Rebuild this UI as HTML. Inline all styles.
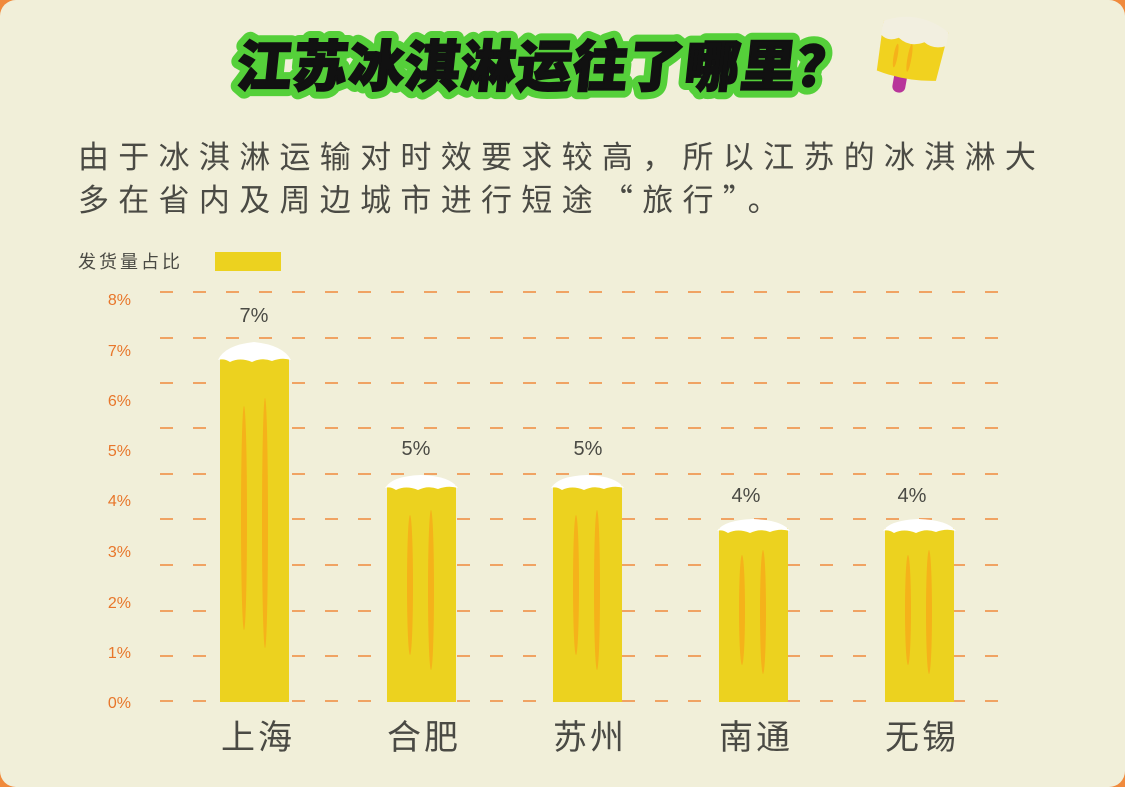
<!DOCTYPE html><html><head><meta charset="utf-8"><style>
body{margin:0;background:#f08a3c;}
.card{position:absolute;left:0;top:0;width:1125px;height:787px;background:#f1efd9;border-radius:16px;overflow:hidden;}
svg text{font-family:"Liberation Sans","Noto Sans CJK SC",sans-serif;}
</style></head><body><div class="card">
<svg width="1125" height="787" xmlns="http://www.w3.org/2000/svg">
<text x="542" y="86" text-anchor="middle" font-size="55" font-weight="900" fill="#111" stroke="#55d03a" stroke-width="16" stroke-linejoin="round" paint-order="stroke" transform="skewX(-6) translate(10,0)" letter-spacing="1">江苏冰淇淋运往了哪里？</text>
<text x="542" y="86" text-anchor="middle" font-size="55" font-weight="900" fill="#111" stroke="#111" stroke-width="2" transform="skewX(-6) translate(10,0)" letter-spacing="1">江苏冰淇淋运往了哪里？</text>
<g transform="rotate(10 910 55)">
<rect x="898" y="70" width="13" height="24" rx="6" fill="#b8359a"/>
<path d="M878 26 Q910 12 944 26 L940 76 Q910 82 880 76 Z" fill="#f1d21f"/>
<path d="M878 26 Q910 8 944 26 L944 40 Q932 46 922 40 Q908 48 896 40 Q886 46 878 40 Z" fill="#f2efe0"/>
<ellipse cx="896" cy="58" rx="2" ry="12" fill="#f5b21a"/><ellipse cx="910" cy="58" rx="2" ry="14" fill="#f5b21a"/>
</g>
<g font-size="31" fill="#4a4a44">
<text x="78" y="168" letter-spacing="9.3" style="font-family:'Noto Sans CJK SC',sans-serif">由于冰淇淋运输对时效要求较高，所以江苏的冰淇淋大</text>
<text x="78" y="211" letter-spacing="9.3" style="font-family:'Noto Sans CJK SC',sans-serif">多在省内及周边城市进行短途“旅行”。</text>
</g>
<text x="78" y="268" font-size="18" fill="#4a4a44" letter-spacing="3">发货量占比</text>
<rect x="215" y="252" width="66" height="19" fill="#ecd21f"/>
<g stroke="#f08a3c" stroke-width="1.5" stroke-dasharray="13 20">
<line x1="160" x2="1000" y1="292" y2="292"/><line x1="160" x2="1000" y1="338" y2="338"/>
<line x1="160" x2="1000" y1="383" y2="383"/><line x1="160" x2="1000" y1="428" y2="428"/>
<line x1="160" x2="1000" y1="474" y2="474"/><line x1="160" x2="1000" y1="519" y2="519"/>
<line x1="160" x2="1000" y1="565" y2="565"/><line x1="160" x2="1000" y1="611" y2="611"/>
<line x1="160" x2="1000" y1="656" y2="656"/><line x1="160" x2="1000" y1="701" y2="701"/>
</g>
<g font-size="16" fill="#e8762a" text-anchor="end">
<text x="131" y="305">8%</text><text x="131" y="356">7%</text><text x="131" y="406">6%</text>
<text x="131" y="456">5%</text><text x="131" y="506">4%</text><text x="131" y="557">3%</text>
<text x="131" y="608">2%</text><text x="131" y="658">1%</text><text x="131" y="708">0%</text>
</g>
<g>
<rect x="220" y="358" width="69" height="344" fill="#ecd21f"/>
<path d="M218 360 Q225 345 254 342 Q283 345 291 360 Q282 357 272 361 Q262 357 252 362 Q240 357 230 362 Q224 358 218 360Z" fill="#fff"/>
<ellipse cx="244" cy="518" rx="3" ry="112" fill="#f5b21a"/><ellipse cx="265" cy="523" rx="3" ry="125" fill="#f5b21a"/>
<rect x="387" y="485" width="69" height="217" fill="#ecd21f"/>
<path d="M385 488 Q392 476 421 475 Q450 476 458 488 Q448 485 438 489 Q428 485 418 490 Q406 485 396 490 Q390 486 385 488Z" fill="#fff"/>
<ellipse cx="410" cy="585" rx="3" ry="70" fill="#f5b21a"/><ellipse cx="431" cy="590" rx="3" ry="80" fill="#f5b21a"/>
<rect x="553" y="485" width="69" height="217" fill="#ecd21f"/>
<path d="M551 488 Q558 476 587 475 Q616 476 624 488 Q614 485 604 489 Q594 485 584 490 Q572 485 562 490 Q556 486 551 488Z" fill="#fff"/>
<ellipse cx="576" cy="585" rx="3" ry="70" fill="#f5b21a"/><ellipse cx="597" cy="590" rx="3" ry="80" fill="#f5b21a"/>
<rect x="719" y="528" width="69" height="174" fill="#ecd21f"/>
<path d="M717 531 Q724 520 753 519 Q782 520 790 531 Q780 528 770 532 Q760 528 750 533 Q738 528 728 533 Q722 529 717 531Z" fill="#fff"/>
<ellipse cx="742" cy="610" rx="3" ry="55" fill="#f5b21a"/><ellipse cx="763" cy="612" rx="3" ry="62" fill="#f5b21a"/>
<rect x="885" y="528" width="69" height="174" fill="#ecd21f"/>
<path d="M883 531 Q890 520 919 519 Q948 520 956 531 Q946 528 936 532 Q926 528 916 533 Q904 528 894 533 Q888 529 883 531Z" fill="#fff"/>
<ellipse cx="908" cy="610" rx="3" ry="55" fill="#f5b21a"/><ellipse cx="929" cy="612" rx="3" ry="62" fill="#f5b21a"/>
</g>
<g font-size="20" fill="#4a4a44" text-anchor="middle">
<text x="254" y="322">7%</text><text x="416" y="455">5%</text><text x="588" y="455">5%</text>
<text x="746" y="502">4%</text><text x="912" y="502">4%</text>
</g>
<g font-size="34" fill="#4a4a44" text-anchor="middle" letter-spacing="3">
<text x="258" y="749">上海</text><text x="424" y="749">合肥</text><text x="590" y="749">苏州</text>
<text x="756" y="749">南通</text><text x="922" y="749">无锡</text>
</g>
</svg></div></body></html>
